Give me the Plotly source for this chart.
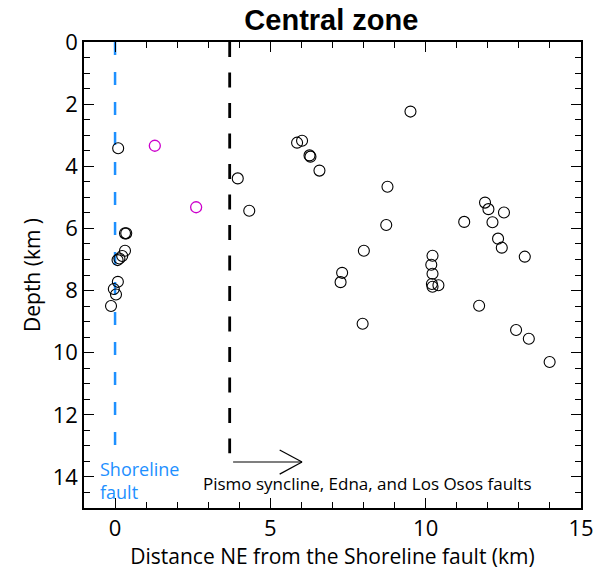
import plotly.graph_objects as go

# Earthquake hypocenters, central zone: distance NE of Shoreline fault (km) and depth (km)
dist_km = [0.10, 0.32, 0.36, 0.32, 0.23, 0.14, 0.08, 0.09, -0.04, 0.03, -0.13,
           9.51, 5.86, 6.02, 6.26, 6.29, 6.58, 8.77,
           3.95, 4.32, 8.73, 8.01, 7.31, 7.26, 7.97,
           10.22, 10.18, 10.22, 10.20, 10.22, 10.41,
           11.91, 12.02, 12.52, 11.24, 12.15, 12.33, 12.45, 13.19, 11.72, 12.91, 13.32, 13.99]
depth_km = [3.42, 6.16, 6.16, 6.72, 6.89, 6.97, 7.02, 7.72, 7.95, 8.13, 8.50,
            2.24, 3.24, 3.18, 3.65, 3.69, 4.14, 4.66,
            4.39, 5.43, 5.89, 6.72, 7.43, 7.73, 9.07,
            6.88, 7.17, 7.46, 7.79, 7.88, 7.83,
            5.17, 5.38, 5.49, 5.79, 5.80, 6.33, 6.62, 6.91, 8.49, 9.27, 9.55, 10.30]

# Highlighted events
hl_dist_km = [1.28, 2.61]
hl_depth_km = [3.34, 5.32]

# Fault traces
shoreline_x = 0.0
shoreline_depth = [0.0, 13.14]
syncline_x = 3.69
syncline_depth = [0.0, 13.24]

# Arrow pointing to the inland fault group
arrow_start = (3.80, 13.52)
arrow_end = (6.02, 13.52)

x_ticks = [0, 5, 10, 15]
y_ticks = [0, 2, 4, 6, 8, 10, 12, 14]

FONT = "Open Sans"

fig = go.Figure()

fig.add_trace(go.Scatter(
    x=[shoreline_x, shoreline_x], y=shoreline_depth, mode="lines",
    line=dict(color="#1e90ff", width=2.5, dash="13px,17px"),
    hoverinfo="skip", showlegend=False))
fig.add_trace(go.Scatter(
    x=[syncline_x, syncline_x], y=syncline_depth, mode="lines",
    line=dict(color="black", width=2.8, dash="15px,15.5px"),
    hoverinfo="skip", showlegend=False))

fig.add_trace(go.Scatter(
    x=dist_km, y=depth_km, mode="markers",
    marker=dict(symbol="circle-open", size=11, color="black", line=dict(width=1.1)),
    showlegend=False))
fig.add_trace(go.Scatter(
    x=hl_dist_km, y=hl_depth_km, mode="markers",
    marker=dict(symbol="circle-open", size=11, color="#cc00cc", line=dict(width=1.3)),
    showlegend=False))

# Arrow shaft and open head
fig.add_shape(type="line", x0=arrow_start[0], y0=arrow_start[1], x1=arrow_end[0], y1=arrow_end[1],
              line=dict(color="black", width=1.2))
fig.add_shape(type="line", x0=arrow_end[0] - 0.72, y0=arrow_end[1] - 0.39,
              x1=arrow_end[0], y1=arrow_end[1], line=dict(color="black", width=1.2))
fig.add_shape(type="line", x0=arrow_end[0] - 0.72, y0=arrow_end[1] + 0.39,
              x1=arrow_end[0], y1=arrow_end[1], line=dict(color="black", width=1.2))

fig.add_annotation(x=8.12, y=14.2, text="Pismo syncline, Edna, and Los Osos faults",
                   showarrow=False, font=dict(family=FONT, size=17, color="black"))
fig.add_annotation(x=-0.55, y=14.12, text="Shoreline<br>fault", showarrow=False,
                   xanchor="left", align="left",
                   font=dict(family=FONT, size=18, color="#1e90ff"))

axis_common = dict(
    showgrid=False, zeroline=False, showline=True, linecolor="black", linewidth=1.5,
    mirror="ticks", ticks="inside", ticklen=10, tickwidth=1.2, tickcolor="black",
    tickfont=dict(family=FONT, size=22, color="black"), automargin=False,
)

fig.update_xaxes(
    range=[-1, 15], tickvals=x_ticks,
    minor=dict(dtick=1, tick0=0, ticks="inside", ticklen=6, tickwidth=1.2, tickcolor="black"),
    title=dict(text="Distance NE from the Shoreline fault (km)",
               font=dict(family=FONT, size=21, color="black"), standoff=2),
    **axis_common)
fig.update_yaxes(
    range=[15, 0], tickvals=y_ticks,
    minor=dict(dtick=0.5, tick0=0, ticks="inside", ticklen=6, tickwidth=1.2, tickcolor="black"),
    title=dict(text="Depth (km )", font=dict(family=FONT, size=21, color="black"), standoff=6),
    **axis_common)

fig.update_layout(
    width=596, height=570,
    margin=dict(l=84, r=15, t=42, b=62),
    paper_bgcolor="white", plot_bgcolor="white",
    title=dict(text="<b>Central zone</b>", x=0.556, xanchor="center", y=0.965, yanchor="middle",
               font=dict(family="Liberation Sans", size=29, color="black")),
)

fig.write_html("out.html")
